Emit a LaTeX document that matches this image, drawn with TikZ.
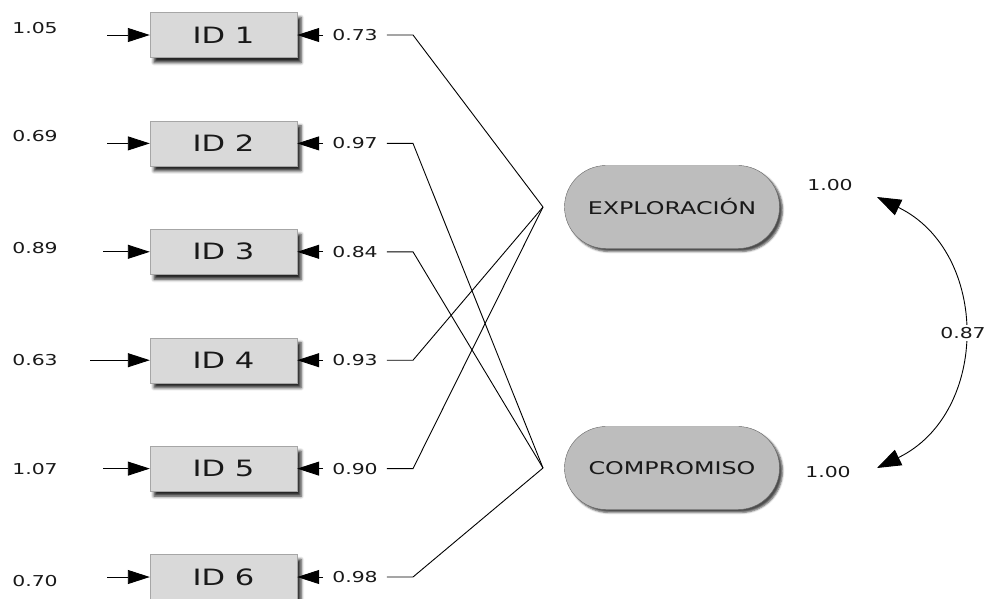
\documentclass[tikz,border=0pt]{standalone}
\usepackage{fontspec}
\setmainfont{DejaVu Sans}
\usepackage{graphicx}
\usetikzlibrary{shapes.misc,shadows.blur,arrows.meta}

% wide lettering used throughout the model
\newcommand{\wtxt}[1]{\scalebox{1.36}[1]{#1}}

\tikzset{
  obs/.style={draw=black!35, fill=black!15, minimum width=147pt, minimum height=45pt,
    inner sep=0pt, text=black!90, font=\fontsize{22.5}{24}\selectfont,
    blur shadow={shadow xshift=4pt, shadow yshift=-5pt, shadow blur radius=3pt, shadow opacity=85}},
  lat/.style={rounded rectangle, draw=black!60, fill=black!26, minimum width=215pt,
    minimum height=83pt, inner sep=0pt, text=black!90, font=\fontsize{17.5}{19}\selectfont,
    blur shadow={shadow xshift=3pt, shadow yshift=-3pt, shadow blur radius=2pt, shadow opacity=70}},
  num/.style={font=\fontsize{15}{17}\selectfont, inner sep=0pt, text=black!90},
  rnum/.style={num, inner xsep=9pt},
  link/.style={line width=0.9pt},
  tip/.style={link, -{Triangle[length=22pt,width=14pt]}},
  covar/.style={link, {Triangle[length=24pt,width=17pt]}-{Triangle[length=24pt,width=17pt]}}
}

\begin{document}
\begin{tikzpicture}[x=1pt,y=1pt]
\useasboundingbox (0,0) rectangle (989,-598);

% latent factors and the points where their loadings meet
\node[lat] (exp) at (672,-207) {\wtxt{EXPLORACIÓN}};
\node[lat] (com) at (672,-468) {\wtxt{COMPROMISO}};
\coordinate (ce) at (543,-207);
\coordinate (cc) at (543,-468);

% observed indicators
\node[obs] (b1) at (223.5,-35)    {\wtxt{ID 1}};
\node[obs] (b2) at (223.5,-143.4) {\wtxt{ID 2}};
\node[obs] (b3) at (223.5,-251.8) {\wtxt{ID 3}};
\node[obs] (b4) at (223.5,-360.2) {\wtxt{ID 4}};
\node[obs] (b5) at (223.5,-468.6) {\wtxt{ID 5}};
\node[obs] (b6) at (223.5,-577)   {\wtxt{ID 6}};

% error variances
\node[num] (e1) at (35,-28)  {\wtxt{1.05}};
\node[num] (e2) at (35,-136) {\wtxt{0.69}};
\node[num] (e3) at (35,-248) {\wtxt{0.89}};
\node[num] (e4) at (35,-360) {\wtxt{0.63}};
\node[num] (e5) at (35,-469) {\wtxt{1.07}};
\node[num] (e6) at (35,-581) {\wtxt{0.70}};

\coordinate (s1) at (107,-35);
\coordinate (s2) at (107,-143.4);
\coordinate (s3) at (103,-251.8);
\coordinate (s4) at (90,-360.2);
\coordinate (s5) at (103,-468.6);
\coordinate (s6) at (107,-577);
\foreach \i in {1,...,6} \draw[tip] (s\i) -- (b\i.west);

% loadings
\node[rnum] (r1) at (355,-35)    {\wtxt{0.73}};
\node[rnum] (r2) at (355,-143.4) {\wtxt{0.97}};
\node[rnum] (r3) at (355,-251.8) {\wtxt{0.84}};
\node[rnum] (r4) at (355,-360.2) {\wtxt{0.93}};
\node[rnum] (r5) at (355,-468.6) {\wtxt{0.90}};
\node[rnum] (r6) at (355,-577)   {\wtxt{0.98}};

\foreach \i in {1,...,6} {
  \coordinate (k\i) at (413,0 |- b\i);
  \draw[tip] (r\i.west) -- (b\i.east);
}
\draw[link] (r1.east) -- (k1) -- (ce);
\draw[link] (r4.east) -- (k4) -- (ce);
\draw[link] (r5.east) -- (k5) -- (ce);
\draw[link] (r2.east) -- (k2) -- (cc);
\draw[link] (r3.east) -- (k3) -- (cc);
\draw[link] (r6.east) -- (k6) -- (cc);

% factor variances and covariance
\node[num] (v1) at (830,-185) {\wtxt{1.00}};
\node[num] (v2) at (828,-472) {\wtxt{1.00}};
\coordinate (t1) at (877,-197);
\coordinate (t2) at (877,-468);
\draw[covar] (t1) .. controls (990,-252) and (990,-413) .. (t2);
\node[num, fill=white, inner ysep=2pt] (cv) at (963,-333) {\wtxt{0.87}};
\end{tikzpicture}
\end{document}
